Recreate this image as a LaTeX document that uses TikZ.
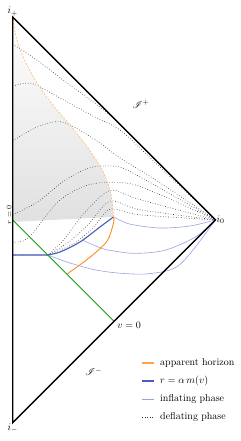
\documentclass[tikz,border=0pt]{standalone}
\usepackage{amsmath,amssymb,mathrsfs}
\usepackage{tikz}
\usetikzlibrary{positioning}

\definecolor{hzorange}{RGB}{255,140,30}
\definecolor{mblue}{RGB}{72,92,190}
\definecolor{lblue}{RGB}{150,165,225}
\definecolor{vgreen}{RGB}{20,160,20}

\begin{document}
\begin{tikzpicture}[x=101.4pt, y=101.4pt,
  bdry/.style={line width=1.3pt, line join=miter},
  horizon/.style={draw=hzorange, line width=0.9pt},
  horizondash/.style={draw=hzorange!60, line width=0.6pt, dash pattern=on 2pt off 1.5pt},
  mline/.style={draw=mblue, line width=1.1pt},
  infl/.style={draw=lblue, line width=0.6pt},
  defl/.style={draw=black!80, line width=0.6pt, dotted},
  vnull/.style={draw=vgreen, line width=0.9pt},
  lbl/.style={inner sep=1pt},
  legtext/.style={anchor=west, inner sep=0pt}]
\useasboundingbox (-0.125,-0.1805) rectangle (2.2515,4.1686);
\coordinate (ip) at (0,4); \coordinate (io) at (2,2); \coordinate (im) at (0,0);
\coordinate (rz) at (0,2); \coordinate (vz) at (1,1);
\coordinate (jn) at (0.346,1.654); \coordinate (ah) at (0.995,2.03);
% trapped region
\shade[top color=white, bottom color=black!12] (ip) -- (0,1.98) -- plot[smooth] coordinates {(0.995,2.03) (0.97,2.25) (0.89,2.48) (0.75,2.70) (0.57,2.93) (0.39,3.14) (0.24,3.35) (0.12,3.57) (0.04,3.78) (0,4)} -- cycle;
% deflating phase
\draw[defl] plot[smooth] coordinates {(0,3.733) (0.24,3.575) (0.55,3.34) (0.85,3.12) (1.1,2.9) (io)};
\draw[defl] plot[smooth] coordinates {(0,3.32) (0.19,3.345) (0.47,3.2) (0.78,3.03) (1.06,2.885) (1.4,2.57) (io)};
\draw[defl] plot[smooth] coordinates {(0,2.78) (0.25,2.92) (0.49,2.965) (0.8,2.8) (1.06,2.61) (1.4,2.4) (io)};
\draw[defl] plot[smooth] coordinates {(0,2.05) (0.25,2.18) (0.5,2.38) (0.72,2.5) (0.86,2.53) (1.06,2.52) (1.3,2.4) (io)};
\draw[defl] plot[smooth] coordinates {(0,1.78) (0.1,1.79) (0.2,1.87) (0.32,2.03) (0.47,2.2) (0.7,2.33) (0.93,2.37) (1.256,2.33) (io)};
\draw[defl] (0,1.654) -- (jn) plot[smooth] coordinates {(jn) (0.5,1.80) (0.7,2.06) (0.96,2.29) (1.256,2.2) (io)};
\draw[defl] plot[smooth] coordinates {(jn) (0.55,1.78) (0.75,1.96) (0.96,2.185) (1.256,2.1) (io)};
\draw[defl] plot[smooth] coordinates {(jn) (0.6,1.765) (0.8,1.93) (0.96,2.105) (1.256,2.05) (io)};
% inflating phase
\draw[infl] plot[smooth] coordinates {(ah) (1.15,1.96) (1.45,1.92) (1.75,1.94) (io)};
\draw[infl] plot[smooth] coordinates {(0.69,1.80) (0.85,1.73) (0.96,1.70) (1.2,1.67) (1.5,1.70) (1.8,1.83) (io)};
\draw[infl] plot[smooth] coordinates {(jn) (0.55,1.58) (0.8,1.51) (1.05,1.475) (1.35,1.47) (1.65,1.56) (io)};
% r = alpha m(v) and apparent horizon
\draw[mline] (0,1.654) -- (jn) plot[smooth] coordinates {(jn) (0.466,1.683) (0.664,1.782) (0.861,1.93) (ah)};
\draw[horizondash] plot[smooth] coordinates {(0.995,2.03) (0.97,2.25) (0.89,2.48) (0.75,2.70) (0.57,2.93) (0.39,3.14) (0.24,3.35) (0.12,3.57) (0.04,3.78) (0,4)};
\draw[horizon] plot[smooth] coordinates {(0.535,1.465) (0.76,1.63) (0.93,1.79) (0.995,1.97) (ah)};
\draw[vnull] (rz) -- (vz);
\draw[bdry] (ip) -- (io) -- (im) -- cycle;
% labels
\node[lbl, anchor=south] at (ip) {$i_+$};
\node[lbl, anchor=west] at (io) {$i_0$};
\node[lbl, anchor=north] at (im) {$i_-$};
\node[lbl, rotate=90, anchor=south, font=\scriptsize] at (0,2.05) {$r=0$};
\node[lbl, anchor=north west, xshift=2pt] at (vz) {$v=0$};
\node (sp) at (1.265,3.14) {$\mathscr{I}^+$};
\node (sm) at (0.80,0.50) {$\mathscr{I}^-$};
% legend
\node[legtext] (lah) at (1.453,0.589) {apparent horizon};
\node[legtext] (lm) at (1.453,0.411) {$r = \alpha\, m(v)$};
\node[legtext] (lin) at (1.453,0.234) {inflating phase};
\node[legtext] (lde) at (1.453,0.056) {deflating phase};
\draw[horizon, draw=hzorange!80, line width=1.3pt] ([xshift=-18pt]lah.west) -- ([xshift=-6pt]lah.west);
\draw[mline] ([xshift=-18pt]lm.west) -- ([xshift=-6pt]lm.west);
\draw[infl] ([xshift=-18pt]lin.west) -- ([xshift=-6pt]lin.west);
\draw[defl] ([xshift=-18pt]lde.west) -- ([xshift=-6pt]lde.west);
\end{tikzpicture}
\end{document}
